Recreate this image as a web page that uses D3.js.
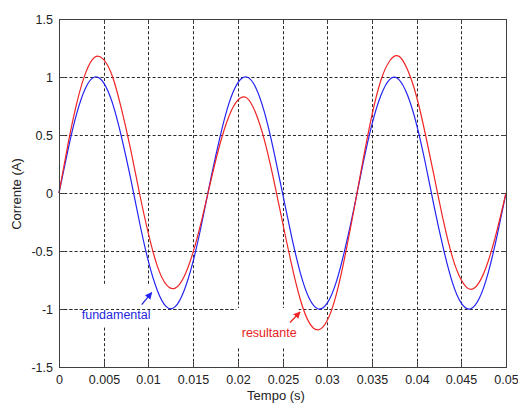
<!DOCTYPE html>
<html>
<head>
<meta charset="utf-8">
<script src="https://cdn.jsdelivr.net/npm/d3@7"></script>
<style>
    body { margin: 0; background: #fff; }
    svg { display: block; font-family: "Liberation Sans", Arial, sans-serif; }
</style>
</head>
<body>
<svg id="chart" width="518" height="406"></svg>
<script>
// sample times (s), one every 1 ms
var tempo = d3.range(51).map(function(i){ return i / 1000; });

// corrente fundamental (A)
var fundamental = [
    0, 0.37, 0.69, 0.91, 1.00, 0.95, 0.77, 0.48, 0.13, -0.25,
    -0.59, -0.84, -0.98, -0.98, -0.84, -0.59, -0.25, 0.13, 0.48, 0.77,
    0.95, 1.00, 0.91, 0.69, 0.37, 0, -0.37, -0.69, -0.91, -1.00,
    -0.95, -0.77, -0.48, -0.13, 0.25, 0.59, 0.84, 0.98, 0.98, 0.84,
    0.59, 0.25, -0.13, -0.48, -0.77, -0.95, -1.00, -0.91, -0.69, -0.37,
    0
];

// corrente resultante (A)
var resultante = [
    0, 0.42, 0.78, 1.04, 1.17, 1.15, 1.00, 0.72, 0.38, 0.00,
    -0.35, -0.63, -0.79, -0.82, -0.72, -0.51, -0.22, 0.11, 0.42, 0.66,
    0.80, 0.82, 0.69, 0.45, 0.12, -0.25, -0.61, -0.92, -1.12, -1.18,
    -1.10, -0.88, -0.54, -0.14, 0.28, 0.67, 0.97, 1.14, 1.18, 1.06,
    0.83, 0.50, 0.13, -0.24, -0.55, -0.75, -0.83, -0.77, -0.59, -0.32,
    0
];

var xTicks = [0, 0.005, 0.01, 0.015, 0.02, 0.025, 0.03, 0.035, 0.04, 0.045, 0.05];
var xTickLabels = ["0", "0.005", "0.01", "0.015", "0.02", "0.025", "0.03", "0.035", "0.04", "0.045", "0.05"];
var yTicks = [-1.5, -1, -0.5, 0, 0.5, 1, 1.5];
var yTickLabels = ["-1.5", "-1", "-0.5", "0", "0.5", "1", "1.5"];

var margin = {top: 19, right: 12, bottom: 39, left: 59};
var width = 518 - margin.left - margin.right;
var height = 406 - margin.top - margin.bottom;

var svg = d3.select("#chart");
var g = svg.append("g")
    .attr("transform", `translate(${margin.left}, ${margin.top})`);

var x = d3.scaleLinear().domain([0, 0.05]).range([0, width]);
var y = d3.scaleLinear().domain([-1.5, 1.5]).range([height, 0]);
// pixel-snapped copies for the grid and ticks
var xr = x.copy().rangeRound([0, width]);
var yr = y.copy().rangeRound([height, 0]);

var gridColor = "#2a2a2a";

// dotted grid
function styleGrid(sel){
    sel.select(".domain").remove();
    sel.selectAll("line")
        .attr("stroke", gridColor)
        .attr("stroke-width", 1)
        .attr("stroke-dasharray", "3,2.2");
}
g.append("g")
    .attr("transform", `translate(0, ${height})`)
    .call(d3.axisBottom(xr).tickValues(xTicks.slice(1, -1)).tickSize(-height).tickFormat(""))
    .call(styleGrid);
g.append("g")
    .call(d3.axisLeft(yr).tickValues(yTicks.slice(1, -1)).tickSize(-width).tickFormat(""))
    .call(styleGrid);

// white boxes behind the text labels cut the grid
var boxes = [
    {x0: 0.003, x1: 0.0118, y0: -0.80, y1: -1.15},
    {x0: 0.01985, x1: 0.0268, y0: -1.0, y1: -1.33}
];
g.selectAll("rect.mask")
    .data(boxes)
    .enter()
    .append("rect")
    .attr("class", "mask")
    .attr("x", function(d){ return x(d.x0); })
    .attr("y", function(d){ return yr(d.y0) - 1; })
    .attr("width", function(d){ return x(d.x1) - x(d.x0); })
    .attr("height", function(d){ return y(d.y1) - yr(d.y0) + 1; })
    .attr("fill", "#fff");

// the -1 grid line still runs over the first box
g.append("line")
    .attr("x1", 0).attr("x2", xr(boxes[1].x0))
    .attr("y1", yr(-1) + 0.5).attr("y2", yr(-1) + 0.5)
    .attr("stroke", gridColor)
    .attr("stroke-dasharray", "3,2.2");

// curves
var line = d3.line()
    .x(function(d){ return x(d[0]); })
    .y(function(d){ return y(d[1]); })
    .curve(d3.curveNatural);

g.append("path")
    .datum(d3.zip(tempo, fundamental))
    .attr("d", line)
    .attr("fill", "none")
    .attr("stroke", "#2424f2")
    .attr("stroke-width", 1.2);

g.append("path")
    .datum(d3.zip(tempo, resultante))
    .attr("d", line)
    .attr("fill", "none")
    .attr("stroke", "#f02424")
    .attr("stroke-width", 1.2);

// axes: ticks inward, labels outside
function styleAxis(sel){
    sel.select(".domain").remove();
    sel.selectAll("line").attr("stroke", "#404040");
    sel.selectAll("text")
        .attr("fill", "#222")
        .style("font-size", "12.5px")
        .style("font-family", "'Liberation Sans', Arial, sans-serif");
}
g.append("g")
    .attr("transform", `translate(0, ${height})`)
    .call(d3.axisBottom(xr).tickValues(xTicks).tickSize(-5).tickPadding(8)
        .tickFormat(function(d, i){ return xTickLabels[i]; }))
    .call(styleAxis);
g.append("g")
    .call(d3.axisTop(xr).tickValues(xTicks).tickSize(-5).tickFormat(""))
    .call(styleAxis);
g.append("g")
    .call(d3.axisLeft(yr).tickValues(yTicks).tickSize(-5).tickPadding(6)
        .tickFormat(function(d, i){ return yTickLabels[i]; }))
    .call(styleAxis);
g.append("g")
    .attr("transform", `translate(${width}, 0)`)
    .call(d3.axisRight(yr).tickValues(yTicks).tickSize(-5).tickFormat(""))
    .call(styleAxis);

g.append("rect")
    .attr("x", 0.5)
    .attr("y", 0.5)
    .attr("width", width)
    .attr("height", height)
    .attr("fill", "none")
    .attr("stroke", "#404040")
    .attr("stroke-width", 1);

// axis titles
svg.append("text")
    .attr("x", 276)
    .attr("y", 400)
    .attr("text-anchor", "middle")
    .attr("fill", "#222")
    .style("font-size", "13px")
    .text("Tempo (s)");

svg.append("text")
    .attr("transform", "translate(21, 194) rotate(-90)")
    .attr("text-anchor", "middle")
    .attr("fill", "#222")
    .style("font-size", "13px")
    .text("Corrente (A)");

// annotations with arrows
var defs = svg.append("defs");
[["blue", "#2424f2"], ["red", "#f02424"]].forEach(function(c){
    defs.append("marker")
        .attr("id", "arrow-" + c[0])
        .attr("viewBox", "0 0 10 10")
        .attr("refX", 9).attr("refY", 5)
        .attr("markerWidth", 7).attr("markerHeight", 7)
        .attr("markerUnits", "userSpaceOnUse")
        .attr("orient", "auto")
        .append("path")
        .attr("d", "M0,0 L10,5 L0,10 z")
        .attr("fill", c[1]);
});

var notes = [
    {text: "fundamental", color: "#2525e0", marker: "blue", tx: 0.00254, ty: -1.09,
        ax0: 0.00925, ay0: -0.962, ax1: 0.01037, ay1: -0.859},
    {text: "resultante", color: "#e52222", marker: "red", tx: 0.02044, ty: -1.245,
        ax0: 0.02584, ay0: -1.117, ax1: 0.02696, ay1: -1.026}
];
notes.forEach(function(n){
    g.append("line")
        .attr("x1", x(n.ax0)).attr("y1", y(n.ay0))
        .attr("x2", x(n.ax1)).attr("y2", y(n.ay1))
        .attr("stroke", n.color)
        .attr("stroke-width", 1.3)
        .attr("marker-end", `url(#arrow-${n.marker})`);
    g.append("text")
        .attr("x", x(n.tx))
        .attr("y", y(n.ty))
        .attr("fill", n.color)
        .style("font-size", "12.5px")
        .text(n.text);
});
</script>
</body>
</html>
